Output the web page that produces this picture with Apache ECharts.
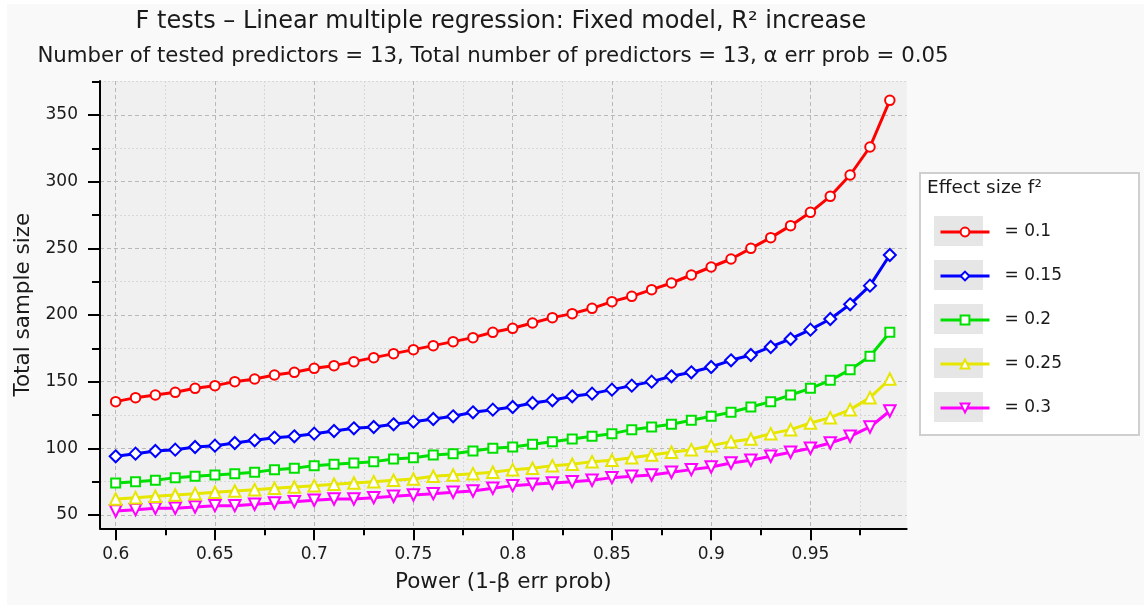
<!DOCTYPE html>
<html>
<head>
<meta charset="utf-8">
<script src="https://cdn.jsdelivr.net/npm/echarts@6/dist/echarts.min.js"></script>
<style>
  html, body { margin: 0; padding: 0; background: #ffffff; }
  #chart { width: 1144px; height: 605px; }
</style>
</head>
<body>
<div id="chart"></div>
<script>
// Power (1-β err prob) on the x axis
const power = [0.60, 0.61, 0.62, 0.63, 0.64, 0.65, 0.66, 0.67, 0.68, 0.69,
               0.70, 0.71, 0.72, 0.73, 0.74, 0.75, 0.76, 0.77, 0.78, 0.79,
               0.80, 0.81, 0.82, 0.83, 0.84, 0.85, 0.86, 0.87, 0.88, 0.89,
               0.90, 0.91, 0.92, 0.93, 0.94, 0.95, 0.96, 0.97, 0.98, 0.99];

// Total sample size for each effect size f²
const n_f010 = [135, 138, 140, 142, 145, 147, 150, 152, 155, 157,
                160, 162, 165, 168, 171, 174, 177, 180, 183, 187,
                190, 194, 198, 201, 205, 210, 214, 219, 224, 230,
                236, 242, 250, 258, 267, 277, 289, 305, 326, 361];
const n_f015 = [94, 96, 98, 99, 101, 102, 104, 106, 108, 109,
                111, 113, 115, 116, 118, 120, 122, 124, 127, 129,
                131, 134, 136, 139, 141, 144, 147, 150, 154, 157,
                161, 166, 170, 176, 182, 189, 197, 208, 222, 245];
const n_f020 = [74, 75, 76, 78, 79, 80, 81, 82, 84, 85,
                87, 88, 89, 90, 92, 93, 95, 96, 98, 100,
                101, 103, 105, 107, 109, 111, 114, 116, 118, 121,
                124, 127, 131, 135, 140, 145, 151, 159, 169, 187];
const n_f025 = [62, 63, 64, 65, 66, 67, 68, 69, 70, 71,
                72, 73, 74, 75, 76, 77, 79, 80, 81, 82,
                84, 85, 87, 88, 90, 91, 93, 95, 97, 99,
                102, 105, 107, 111, 114, 119, 123, 129, 138, 152];
const n_f030 = [53, 54, 55, 55, 56, 57, 57, 58, 59, 60,
                61, 62, 62, 63, 64, 65, 66, 67, 68, 70,
                72, 73, 74, 75, 76, 78, 79, 80, 82, 84,
                86, 89, 91, 94, 97, 100, 104, 109, 116, 128];

const seriesNames = ['= 0.1', '= 0.15', '= 0.2', '= 0.25', '= 0.3'];

// Axis ticks and labels
const xMajor = [0.6, 0.65, 0.7, 0.75, 0.8, 0.85, 0.9, 0.95];
const xMinor = [0.625, 0.675, 0.725, 0.775, 0.825, 0.875, 0.925, 0.975];
const yMajor = [50, 100, 150, 200, 250, 300, 350];
const yMinor = [75, 125, 175, 225, 275, 325, 375];

const X_MIN = 0.5921, X_MAX = 0.9985;
const Y_MIN = 40, Y_MAX = 375.5;

const FONT = 'DejaVu Sans';
const INK = '#1a1a1a';

const styles = [
  { color: '#ff0000', symbol: 'emptyCircle', size: 9.5, rotate: 0 },
  { color: '#0000ff', symbol: 'emptyDiamond', size: 12, rotate: 0 },
  { color: '#00e000', symbol: 'emptyRect', size: 9, rotate: 0 },
  { color: '#e6e600', symbol: 'emptyTriangle', size: 11.5, rotate: 0 },
  { color: '#ff00ff', symbol: 'emptyTriangle', size: 11.5, rotate: 180 }
];

const values = [n_f010, n_f015, n_f020, n_f025, n_f030];

const series = values.map((arr, i) => ({
  name: seriesNames[i],
  type: 'line',
  xAxisIndex: 0,
  yAxisIndex: 0,
  data: power.map((p, k) => [p, arr[k]]),
  symbol: styles[i].symbol,
  symbolSize: styles[i].size,
  symbolRotate: styles[i].rotate,
  showAllSymbol: true,
  lineStyle: { color: styles[i].color, width: 3 },
  itemStyle: { color: styles[i].color, borderWidth: 3 },
  emphasis: { disabled: true },
  animation: false,
  z: 10 - i
}));

const legendY = [231, 275, 319, 363, 407];

const chart = echarts.init(document.getElementById('chart'), null, { renderer: 'canvas' });
chart.setOption({
  backgroundColor: '#ffffff',
  animation: false,
  title: [
    {
      text: 'F tests – Linear multiple regression: Fixed model, R² increase',
      left: 496, top: 5, textAlign: 'center',
      textStyle: { fontFamily: FONT, fontSize: 24, fontWeight: 'normal', color: INK }
    },
    {
      text: 'Number of tested predictors = 13, Total number of predictors = 13, α err prob = 0.05',
      left: 488, top: 40.5, textAlign: 'center',
      textStyle: { fontFamily: FONT, fontSize: 21.3, fontWeight: 'normal', color: INK }
    }
  ],
  graphic: [
    { type: 'rect', z: -10, silent: true, shape: { x: 7, y: 4, width: 1137, height: 601 }, style: { fill: '#f9f9f9' } },
    { type: 'rect', z: 0, silent: true, shape: { x: 920, y: 173, width: 219, height: 262 }, style: { fill: '#ffffff', stroke: '#cfcfcf', lineWidth: 2 } },
    { type: 'text', z: 1, silent: true, style: { x: 927, y: 188, text: 'Effect size f²', fontFamily: FONT, fontSize: 18.5, fill: INK, verticalAlign: 'middle' } }
  ].concat(legendY.map(cy => ({
    type: 'rect', z: 1, silent: true, shape: { x: 934, y: cy - 15, width: 49, height: 30 }, style: { fill: '#e6e6e6' }
  }))),
  legend: {
    orient: 'vertical',
    left: 934,
    top: 218.5,
    itemWidth: 49,
    itemHeight: 11,
    itemGap: 27,
    z: 5,
    selectedMode: false,
    lineStyle: { width: 3 },
    itemStyle: { borderWidth: 2.5 },
    textStyle: { fontFamily: FONT, fontSize: 17, color: INK, lineHeight: 11, padding: [0, 0, 0, 10] },
    data: seriesNames
  },
  grid: {
    left: 100, right: 237.3, top: 81, bottom: 76.7,
    show: true, backgroundColor: '#f0f0f0', borderWidth: 0
  },
  xAxis: [
    {
      type: 'value', position: 'bottom', min: X_MIN, max: X_MAX,
      name: 'Power (1-β err prob)', nameLocation: 'middle', nameGap: 43,
      nameTextStyle: { fontFamily: FONT, fontSize: 21.5, color: INK },
      axisLine: { show: true, onZero: false, lineStyle: { color: '#000', width: 2 } },
      axisTick: { show: true, length: 12, lineStyle: { color: '#000', width: 2 }, customValues: xMajor },
      axisLabel: { show: true, margin: 18, fontFamily: FONT, fontSize: 17, color: INK, customValues: xMajor,
                   formatter: v => String(+v.toFixed(3)) },
      splitLine: { show: true, lineStyle: { color: '#b8b8b8', type: [4, 3], width: 1 } }
    },
    {
      type: 'value', position: 'bottom', min: X_MIN, max: X_MAX,
      axisLine: { show: false, onZero: false },
      axisTick: { show: true, length: 7, lineStyle: { color: '#000', width: 2 }, customValues: xMinor },
      axisLabel: { show: false },
      splitLine: { show: true, lineStyle: { color: '#d8d8d8', type: [2, 2], width: 1 } }
    }
  ],
  yAxis: [
    {
      type: 'value', position: 'left', min: Y_MIN, max: Y_MAX,
      name: 'Total sample size', nameLocation: 'middle', nameGap: 66,
      nameTextStyle: { fontFamily: FONT, fontSize: 21.5, color: INK },
      axisLine: { show: true, onZero: false, lineStyle: { color: '#000', width: 2 } },
      axisTick: { show: true, length: 12, lineStyle: { color: '#000', width: 2 }, customValues: yMajor },
      axisLabel: { show: true, margin: 22, fontFamily: FONT, fontSize: 17, color: INK, customValues: yMajor },
      splitLine: { show: true, lineStyle: { color: '#b8b8b8', type: [4, 3], width: 1 } }
    },
    {
      type: 'value', position: 'left', min: Y_MIN, max: Y_MAX,
      axisLine: { show: false, onZero: false },
      axisTick: { show: true, length: 8, lineStyle: { color: '#000', width: 2 }, customValues: yMinor },
      axisLabel: { show: false },
      splitLine: { show: true, lineStyle: { color: '#d8d8d8', type: [2, 2], width: 1 } }
    }
  ],
  series: series
});
</script>
</body>
</html>
